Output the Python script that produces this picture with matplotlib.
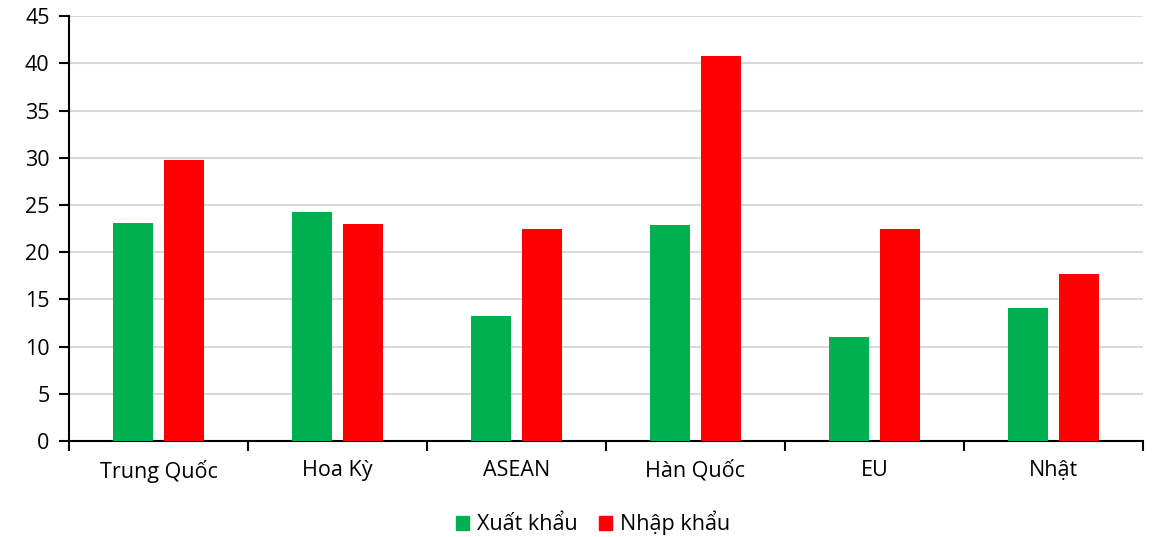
import numpy as np
import matplotlib.pyplot as plt
from matplotlib.patches import Patch

plt.rcParams.update({
    'font.family': ['Open Sans', 'DejaVu Sans'],
    'font.size': 15.5,
})

categories = ['Trung Quốc', 'Hoa Kỳ', 'ASEAN', 'Hàn Quốc', 'EU', 'Nhật']
xuat_khau = [23.1, 24.3, 13.2, 22.9, 11.0, 14.1]
nhap_khau = [29.8, 23.0, 22.4, 40.8, 22.5, 17.7]
series_names = ['Xuất khẩu', 'Nhập khẩu']
y_ticks = [0, 5, 10, 15, 20, 25, 30, 35, 40, 45]

GREEN = '#00b050'
RED = '#ff0000'

fig = plt.figure(figsize=(11.58, 5.37), dpi=100)
ax = fig.add_axes([0.0596, 0.1788, 0.9274, 0.7912])

x = np.arange(len(categories))
width = 0.223
offset = 0.1425
ax.bar(x - offset, xuat_khau, width, color=GREEN, zorder=3)
ax.bar(x + offset, nhap_khau, width, color=RED, zorder=3)

ax.set_xlim(-0.5, len(categories) - 0.5)
ax.set_ylim(0, 45)
ax.set_yticks(y_ticks)
ax.yaxis.grid(True, color='#d9d9d9', linewidth=1.5, zorder=0)
ax.set_axisbelow(True)

# category labels centred, ticks on the boundaries
ax.set_xticks(x)
ax.set_xticklabels(categories)
ax.tick_params(axis='x', length=0, pad=14)
ax.set_xticks(np.arange(len(categories) + 1) - 0.5, minor=True)
ax.tick_params(axis='x', which='minor', length=7, width=1.5, color='black')
ax.tick_params(axis='y', length=7, width=1.5, pad=7)

for side in ['top', 'right']:
    ax.spines[side].set_visible(False)
for side in ['left', 'bottom']:
    ax.spines[side].set_linewidth(1.5)

handles = [Patch(color=GREEN, label=series_names[0]),
           Patch(color=RED, label=series_names[1])]
fig.legend(handles=handles, loc='center', bbox_to_anchor=(0.512, 0.026),
           ncol=2, frameon=False, fontsize=15.5, handlelength=0.62,
           handleheight=0.62, handletextpad=0.35, columnspacing=1.0)

fig.savefig('out.png', dpi=100, facecolor='white')
